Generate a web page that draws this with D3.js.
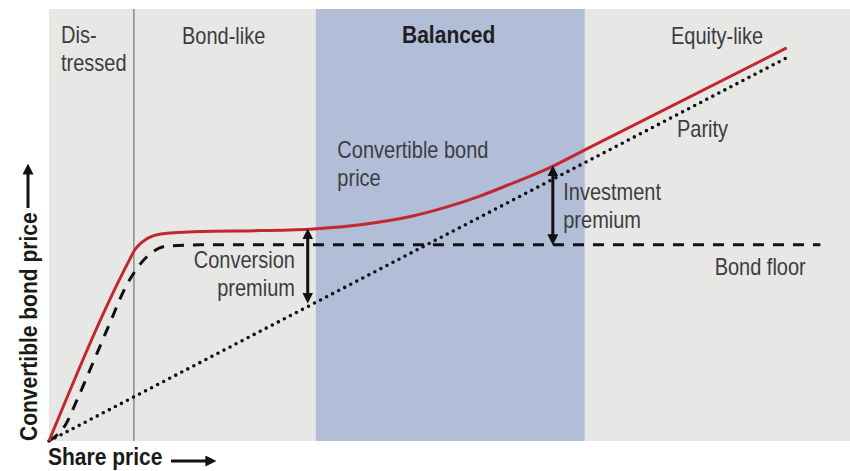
<!DOCTYPE html>
<html>
<head>
<meta charset="utf-8">
<script src="https://cdn.jsdelivr.net/npm/d3@7"></script>
<style>
  body { margin: 0; background: #fff; }
  text { font-family: "Liberation Sans", Arial, sans-serif; }
</style>
</head>
<body>
<svg id="chart"></svg>
<script>
// Regions along the share price axis (0-100 units)
const regionNames = ["Distressed", "Bond-like", "Balanced", "Equity-like"];
const regionEdges = [0, 10.6, 33.3, 66.9, 100];

// Convertible bond price curve
const cbX = [0, 9.9, 10.7, 12.2, 14.2, 18.9, 26.3, 33.0, 37.2, 41.3, 45.4, 49.7, 53.8, 57.9, 62.2, 66.9, 92.1];
const cbY = [0, 41.4, 44.2, 46.8, 48.0, 48.5, 48.7, 49.1, 49.7, 50.7, 52.1, 54.2, 56.7, 59.7, 63.0, 67.4, 91.0];

// Bond floor
const floorX = [0, 2.1, 3.5, 5.1, 7.6, 9.5, 11.0, 12.6, 14.7, 18.9, 96.3];
const floorY = [0, 3.9, 9.5, 16.4, 27.3, 35.4, 40.0, 43.3, 45.1, 45.4, 45.4];

// Parity (straight line)
const parityX = [0, 92.5];
const parityY = [0, 89.1];

// Premium arrows: x, top, bottom
const premiumArrows = [
  { x: 32.3, top: 49.1, bottom: 31.9 },
  { x: 62.9, top: 63.7, bottom: 45.4 }
];

// Text annotations (data units)
const notes = [
  { lines: ["Dis-", "tressed"], x: 1.5, y: 92.1, anchor: "start" },
  { lines: ["Bond-like"], x: 21.8, y: 91.9, anchor: "middle" },
  { lines: ["Balanced"], x: 49.9, y: 92.1, anchor: "middle", bold: true },
  { lines: ["Equity-like"], x: 83.4, y: 91.9, anchor: "middle" },
  { lines: ["Convertible bond", "price"], x: 36.0, y: 65.5, anchor: "start" },
  { lines: ["Parity"], x: 78.4, y: 70.4, anchor: "start" },
  { lines: ["Investment", "premium"], x: 64.2, y: 55.8, anchor: "start" },
  { lines: ["Conversion", "premium"], x: 30.7, y: 40.0, anchor: "end" },
  { lines: ["Bond floor"], x: 83.1, y: 38.4, anchor: "start" }
];

const W = 850, H = 471;
const margin = {top: 9, right: 0, bottom: 30, left: 49},
    width = W - margin.left - margin.right,
    height = H - margin.top - margin.bottom;
const stretch = 1.17; // glyphs in the reference are a bit tall

const svg = d3.select("#chart").attr("width", W).attr("height", H);

const defs = svg.append("defs");
defs.append("marker")
    .attr("id", "head")
    .attr("markerUnits", "userSpaceOnUse")
    .attr("viewBox", "0 0 10 10")
    .attr("markerWidth", 11).attr("markerHeight", 11)
    .attr("refX", 6).attr("refY", 5)
    .attr("orient", "auto-start-reverse")
    .append("path").attr("d", "M0,0L10,5L0,10z").attr("fill", "#111");

const g = svg.append("g").attr("transform", `translate(${margin.left},${margin.top})`);

const x = d3.scaleLinear().domain([0, 100]).range([0, width]);
const y = d3.scaleLinear().domain([0, 100]).range([height, 0]);

// background regions
g.selectAll("rect.region")
    .data(regionNames)
    .enter().append("rect")
    .attr("class", "region")
    .attr("x", (d, i) => x(regionEdges[i]))
    .attr("y", 0)
    .attr("width", (d, i) => x(regionEdges[i + 1]) - x(regionEdges[i]))
    .attr("height", height)
    .attr("fill", d => d === "Balanced" ? "#b2bed8" : "#e7e8e5");

// divider between distressed and bond-like
g.append("line")
    .attr("x1", x(regionEdges[1])).attr("x2", x(regionEdges[1]))
    .attr("y1", 0).attr("y2", height)
    .attr("stroke", "#8b8d89").attr("stroke-width", 1.5);

const toPts = (xs, ys) => xs.map((v, i) => [v, ys[i]]);
const line = d3.line().x(d => x(d[0])).y(d => y(d[1])).curve(d3.curveMonotoneX);

// parity
g.append("path")
    .attr("d", line(toPts(parityX, parityY)))
    .attr("fill", "none").attr("stroke", "#111")
    .attr("stroke-width", 3.6).attr("stroke-linecap", "round")
    .attr("stroke-dasharray", "0 6.8");

// bond floor
g.append("path")
    .attr("d", line(toPts(floorX, floorY)))
    .attr("fill", "none").attr("stroke", "#111")
    .attr("stroke-width", 3).attr("stroke-dasharray", "11 9");

// convertible bond price
g.append("path")
    .attr("d", line(toPts(cbX, cbY)))
    .attr("fill", "none").attr("stroke", "#c1282e")
    .attr("stroke-width", 3);

// premium arrows
g.selectAll("line.premium")
    .data(premiumArrows)
    .enter().append("line")
    .attr("class", "premium")
    .attr("x1", d => x(d.x)).attr("x2", d => x(d.x))
    .attr("y1", d => y(d.top) + 4).attr("y2", d => y(d.bottom) - 4)
    .attr("stroke", "#111").attr("stroke-width", 3)
    .attr("marker-start", "url(#head)")
    .attr("marker-end", "url(#head)");

// annotations
const lh = 28 / stretch;
notes.forEach(n => {
  const t = g.append("text")
      .attr("transform", `translate(${x(n.x)},${y(n.y)}) scale(1,${stretch})`)
      .attr("text-anchor", n.anchor)
      .attr("fill", n.bold ? "#1e1e1e" : "#3c3c42")
      .style("font-size", n.bold ? "21px" : "20px")
      .style("font-weight", n.bold ? "bold" : "normal");
  n.lines.forEach((l, i) => {
    t.append("tspan").attr("x", 0).attr("dy", i === 0 ? 0 : lh).text(l);
  });
});

// axis titles with arrows
svg.append("text")
    .attr("transform", `translate(48,465) scale(1,${stretch})`)
    .style("font-size", "21px").style("font-weight", "bold").attr("fill", "#1a1a1a")
    .text("Share price");
svg.append("line")
    .attr("x1", 171).attr("x2", 212).attr("y1", 461).attr("y2", 461)
    .attr("stroke", "#111").attr("stroke-width", 3)
    .attr("marker-end", "url(#head)");

svg.append("text")
    .attr("transform", `translate(37,441) rotate(-90) scale(1,${stretch})`)
    .style("font-size", "21px").style("font-weight", "bold").attr("fill", "#1a1a1a")
    .text("Convertible bond price");
svg.append("line")
    .attr("x1", 28).attr("x2", 28).attr("y1", 208).attr("y2", 168)
    .attr("stroke", "#111").attr("stroke-width", 3)
    .attr("marker-end", "url(#head)");
</script>
</body>
</html>
